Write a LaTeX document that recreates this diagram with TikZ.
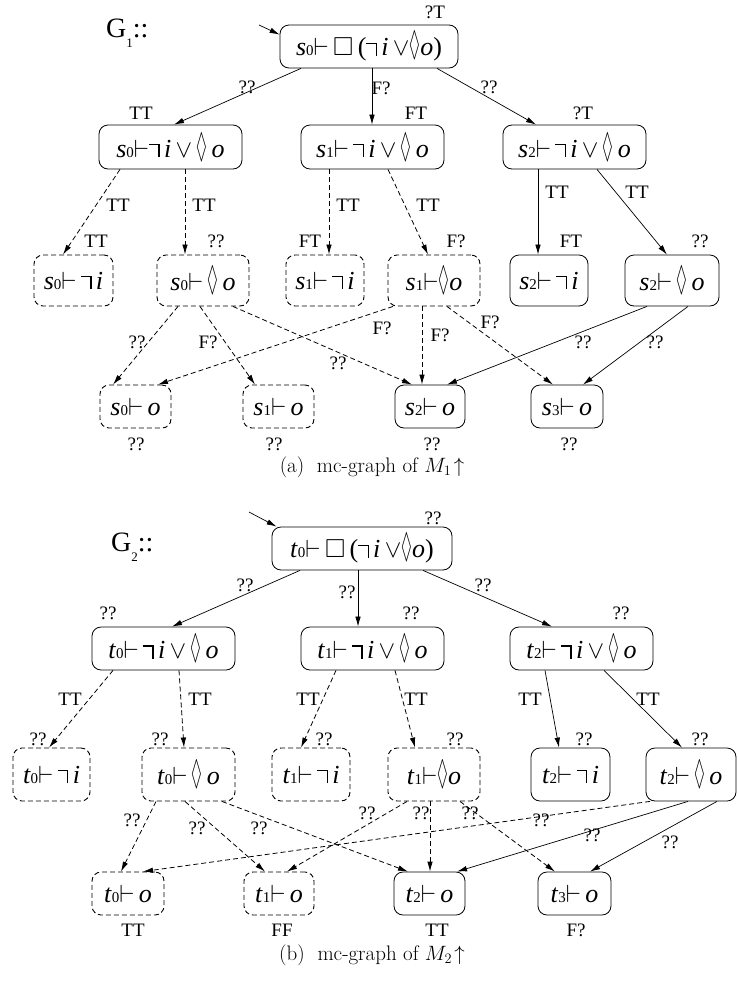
\documentclass[tikz,border=0pt]{standalone}
\usepackage{fontspec}
\usepackage{amssymb}
\usepackage{graphicx}
\usetikzlibrary{arrows.meta}
\newfontfamily\tms{Liberation Serif}
\newcommand\tv[1]{\textit{#1}}
\newcommand\idx[1]{{\fontsize{15}{15}\selectfont #1}}
\newcommand\ent{$\vdash$}
\newcommand\ngt{\mbox{\rule[0.46em]{0.36em}{0.05em}\rule[0.0em]{0.05em}{0.51em}}}
\newcommand\dmd{\scalebox{0.62}[1.35]{$\Diamond$}}
\begin{document}
\begin{tikzpicture}[x=1pt,y=-1pt,
 box/.style={draw, rounded corners=9pt, line width=0.8pt, inner sep=0pt, font=\tms\fontsize{26}{26}\selectfont},
 dbox/.style={box, line width=0.9pt, dash pattern=on 5pt off 3pt},
 lab/.style={font=\tms\fontsize{19}{19}\selectfont, inner sep=0pt},
 arr/.style={-{Latex[length=10pt,width=5.5pt]}, line width=0.7pt},
 darr/.style={arr, line width=0.8pt, dash pattern=on 5pt off 3pt},
 captxt/.style={font=\fontsize{21}{23}\selectfont, inner sep=0pt},
 gname/.style={font=\tms\fontsize{28}{28}\selectfont, inner sep=0pt, anchor=west}
]
\useasboundingbox (0,0) rectangle (737,983);

% ================= G1 =================
\node[gname] (gA) at (106,33) {G\raisebox{-0.35em}{\fontsize{13}{13}\selectfont 1}::};
\node[box, minimum width=178pt, minimum height=43pt] (r1) at (369,46.5) {\tv{s}\idx{0}\ent\,$\Box$\,(\ngt\,\tv{i}\,$\vee$\dmd\tv{o})};
\node[box, minimum width=143pt, minimum height=44pt] (a1) at (170.5,147) {\tv{s}\idx{0}\ent\ngt\,\tv{i}\,$\vee$\,\dmd\,\tv{o}};
\node[box, minimum width=143pt, minimum height=44pt] (b1) at (372.5,147) {\tv{s}\idx{1}\ent\,\ngt\,\tv{i}\,$\vee$\,\dmd\,\tv{o}};
\node[box, minimum width=143pt, minimum height=44pt] (c1) at (574.5,147) {\tv{s}\idx{2}\ent\,\ngt\,\tv{i}\,$\vee$\,\dmd\,\tv{o}};
\node[dbox, minimum width=79pt, minimum height=51pt] (d1) at (73.5,280.5) {\tv{s}\idx{0}\ent\,\ngt\,\tv{i}};
\node[dbox, minimum width=92pt, minimum height=51pt] (e1) at (203,280.5) {\tv{s}\idx{0}\ent\,\dmd\,\tv{o}};
\node[dbox, minimum width=78pt, minimum height=51pt] (f1) at (325,280.5) {\tv{s}\idx{1}\ent\,\ngt\,\tv{i}};
\node[dbox, minimum width=92pt, minimum height=51pt] (g1) at (434,280.5) {\tv{s}\idx{1}\ent\dmd\tv{o}};
\node[box, minimum width=78pt, minimum height=51pt] (h1) at (549,280.5) {\tv{s}\idx{2}\ent\,\ngt\,\tv{i}};
\node[box, minimum width=94pt, minimum height=51pt] (i1) at (672,280.5) {\tv{s}\idx{2}\ent\,\dmd\,\tv{o}};
\node[dbox, minimum width=71pt, minimum height=43pt] (j1) at (135.5,406.5) {\tv{s}\idx{0}\ent\,\tv{o}};
\node[dbox, minimum width=71pt, minimum height=43pt] (k1) at (278.5,406.5) {\tv{s}\idx{1}\ent\,\tv{o}};
\node[box, minimum width=70pt, minimum height=43pt] (l1) at (430,406.5) {\tv{s}\idx{2}\ent\,\tv{o}};
\node[box, minimum width=72pt, minimum height=43pt] (m1) at (567,406.5) {\tv{s}\idx{3}\ent\,\tv{o}};

\coordinate (in1) at (259,25);
\draw[arr] (in1) -- ([yshift=-10pt]r1.north west);
\draw[arr] ([xshift=-68pt]r1.south) -- ([xshift=3.5pt]a1.north);
\draw[arr] ([xshift=3pt]r1.south) -- ([xshift=-0.5pt]b1.north);
\draw[arr] ([xshift=68pt]r1.south) -- ([xshift=-38.5pt]c1.north);
\draw[darr] ([xshift=-50.5pt]a1.south) -- ([xshift=-10.5pt]d1.north);
\draw[darr] ([xshift=14.5pt]a1.south) -- ([xshift=-18pt]e1.north);
\draw[darr] ([xshift=-43.5pt]b1.south) -- ([xshift=4pt]f1.north);
\draw[darr] ([xshift=15.5pt]b1.south) -- ([xshift=-6pt]g1.north);
\draw[arr] ([xshift=-36.5pt]c1.south) -- ([xshift=-11pt]h1.north);
\draw[arr] ([xshift=22.5pt]c1.south) -- ([xshift=-5pt]i1.north);
\draw[darr] ([xshift=-25pt]e1.south) -- ([xshift=-22.5pt]j1.north);
\draw[darr] ([xshift=-3pt]e1.south) -- ([xshift=-23.5pt]k1.north);
\draw[darr] ([xshift=30pt]e1.south) -- ([xshift=-18pt]l1.north);
\draw[darr] ([xshift=-41pt]g1.south) -- ([xshift=22.5pt]j1.north);
\draw[darr] ([xshift=-12pt]g1.south) -- ([xshift=-8pt]l1.north);
\draw[darr] ([xshift=13pt]g1.south) -- ([xshift=-14pt]m1.north);
\draw[arr] ([xshift=-25pt]i1.south) -- ([xshift=17pt]l1.north);
\draw[arr] ([xshift=16pt]i1.south) -- ([xshift=16pt]m1.north);

\node[lab] (p1) at (435,12) {?T};
\node[lab] (p2) at (247,87) {??};
\node[lab] (p3) at (381,88) {F?};
\node[lab] (p4) at (489,87) {??};
\node[lab] (p5) at (141,113) {TT};
\node[lab] (p6) at (416,113) {FT};
\node[lab] (p7) at (583,113) {?T};
\node[lab] (p8) at (118,205) {TT};
\node[lab] (p9) at (204,205) {TT};
\node[lab] (p10) at (348,205) {TT};
\node[lab] (p11) at (428,205) {TT};
\node[lab] (p12) at (557,192) {TT};
\node[lab] (p13) at (637,192) {TT};
\node[lab] (p14) at (96,241) {TT};
\node[lab] (p15) at (216,241) {??};
\node[lab] (p16) at (310,241) {FT};
\node[lab] (p17) at (456,241) {F?};
\node[lab] (p18) at (571,241) {FT};
\node[lab] (p19) at (700,241) {??};
\node[lab] (p20) at (137,342) {??};
\node[lab] (p21) at (208,342) {F?};
\node[lab] (p22) at (338,363) {??};
\node[lab] (p23) at (382,328) {F?};
\node[lab] (p24) at (440,335) {F?};
\node[lab] (p25) at (490,322) {F?};
\node[lab] (p26) at (583,342) {??};
\node[lab] (p27) at (655,342) {??};
\node[lab] (p28) at (136,444) {??};
\node[lab] (p29) at (274,444) {??};
\node[lab] (p30) at (432,444) {??};
\node[lab] (p31) at (569,444) {??};
\node[captxt] (capa) at (372,467) {(a)~ mc-graph of $M_1\!\uparrow$};

% ================= G2 =================
\node[gname] (gB) at (111,547) {G\raisebox{-0.35em}{\fontsize{13}{13}\selectfont 2}::};
\node[box, minimum width=180pt, minimum height=43pt] (r2) at (362,548.5) {\tv{t}\idx{0}\ent\,$\Box$\,(\ngt\,\tv{i}\,$\vee$\dmd\tv{o})};
\node[box, minimum width=143pt, minimum height=43pt] (a2) at (163.5,648.5) {\tv{t}\idx{0}\ent\,\ngt\,\tv{i}\,$\vee$\,\dmd\,\tv{o}};
\node[box, minimum width=143pt, minimum height=43pt] (b2) at (372.5,648.5) {\tv{t}\idx{1}\ent\,\ngt\,\tv{i}\,$\vee$\,\dmd\,\tv{o}};
\node[box, minimum width=143pt, minimum height=43pt] (c2) at (581.5,648.5) {\tv{t}\idx{2}\ent\,\ngt\,\tv{i}\,$\vee$\,\dmd\,\tv{o}};
\node[dbox, minimum width=77pt, minimum height=53pt] (d2) at (51.5,774.5) {\tv{t}\idx{0}\ent\,\ngt\,\tv{i}};
\node[dbox, minimum width=93pt, minimum height=53pt] (e2) at (188.5,774.5) {\tv{t}\idx{0}\ent\,\dmd\,\tv{o}};
\node[dbox, minimum width=78pt, minimum height=53pt] (f2) at (311,774.5) {\tv{t}\idx{1}\ent\,\ngt\,\tv{i}};
\node[dbox, minimum width=92pt, minimum height=53pt] (g2) at (434,774.5) {\tv{t}\idx{1}\ent\dmd\tv{o}};
\node[box, minimum width=79pt, minimum height=53pt] (h2) at (570.5,774.5) {\tv{t}\idx{2}\ent\,\ngt\,\tv{i}};
\node[box, minimum width=90pt, minimum height=53pt] (i2) at (691,774.5) {\tv{t}\idx{2}\ent\,\dmd\,\tv{o}};
\node[dbox, minimum width=72pt, minimum height=43pt] (j2) at (128,893.5) {\tv{t}\idx{0}\ent\,\tv{o}};
\node[dbox, minimum width=70pt, minimum height=43pt] (k2) at (279,893.5) {\tv{t}\idx{1}\ent\,\tv{o}};
\node[box, minimum width=71pt, minimum height=43pt] (l2) at (429.5,893.5) {\tv{t}\idx{2}\ent\,\tv{o}};
\node[box, minimum width=73pt, minimum height=43pt] (m2) at (574.5,893.5) {\tv{t}\idx{3}\ent\,\tv{o}};

\coordinate (in2) at (249,512);
\draw[arr] (in2) -- ([xshift=5pt]r2.north west);
\draw[arr] ([xshift=-62pt]r2.south) -- ([xshift=8.5pt]a2.north);
\draw[arr] ([xshift=-4pt]r2.south) -- ([xshift=-14.5pt]b2.north);
\draw[arr] ([xshift=61pt]r2.south) -- ([xshift=-29.5pt]c2.north);
\draw[darr] ([xshift=-50.5pt]a2.south) -- ([xshift=-2.5pt]d2.north);
\draw[darr] ([xshift=15.5pt]a2.south) -- ([xshift=-4.5pt]e2.north);
\draw[darr] ([xshift=-36.5pt]b2.south) -- ([xshift=-10pt]f2.north);
\draw[darr] ([xshift=22.5pt]b2.south) -- ([xshift=-19pt]g2.north);
\draw[arr] ([xshift=-36.5pt]c2.south) -- ([xshift=-11.5pt]h2.north);
\draw[arr] ([xshift=22.5pt]c2.south) -- ([xshift=-9pt]i2.north);
\draw[darr] ([xshift=-32.5pt]e2.south) -- ([xshift=-7pt]j2.north);
\draw[darr] ([xshift=-3.5pt]e2.south) -- ([xshift=-14pt]k2.north);
\draw[darr] ([xshift=33.5pt]e2.south) -- ([xshift=-21.5pt]l2.north);
\draw[darr] ([xshift=-27pt]g2.south) -- ([xshift=8pt]k2.north);
\draw[darr] ([xshift=-4pt]g2.south) -- ([xshift=0.5pt]l2.north);
\draw[darr] ([xshift=26pt]g2.south) -- ([xshift=-19.5pt]m2.north);
\draw[darr] ([xshift=-41pt]i2.south) -- ([xshift=15pt]j2.north);
\draw[arr] ([xshift=-3pt]i2.south) -- ([xshift=27.5pt]l2.north);
\draw[arr] ([xshift=26pt]i2.south) -- ([xshift=15.5pt]m2.north);

\node[lab] (q1) at (433,518) {??};
\node[lab] (q2) at (245,585) {??};
\node[lab] (q3) at (347,592) {??};
\node[lab] (q4) at (483,585) {??};
\node[lab] (q5) at (108,613) {??};
\node[lab] (q6) at (411,613) {??};
\node[lab] (q7) at (621,613) {??};
\node[lab] (q8) at (70,699) {TT};
\node[lab] (q9) at (200,699) {TT};
\node[lab] (q10) at (308,699) {TT};
\node[lab] (q11) at (416,699) {TT};
\node[lab] (q12) at (530,699) {TT};
\node[lab] (q13) at (648,699) {TT};
\node[lab] (q14) at (38,739) {??};
\node[lab] (q15) at (160,739) {??};
\node[lab] (q16) at (324,739) {??};
\node[lab] (q17) at (455,739) {??};
\node[lab] (q18) at (584,739) {??};
\node[lab] (q19) at (700,739) {??};
\node[lab] (q20) at (132,820) {??};
\node[lab] (q21) at (197,828) {??};
\node[lab] (q22) at (259,828) {??};
\node[lab] (q23) at (367,813) {??};
\node[lab] (q24) at (421,813) {??};
\node[lab] (q25) at (470,813) {??};
\node[lab] (q26) at (541,820) {??};
\node[lab] (q27) at (592,835) {??};
\node[lab] (q28) at (670,842) {??};
\node[lab] (q29) at (133,930) {TT};
\node[lab] (q30) at (282,930) {FF};
\node[lab] (q31) at (437,930) {TT};
\node[lab] (q32) at (576,930) {F?};
\node[captxt] (capb) at (372,955) {(b)~ mc-graph of $M_2\!\uparrow$};
\end{tikzpicture}
\end{document}
